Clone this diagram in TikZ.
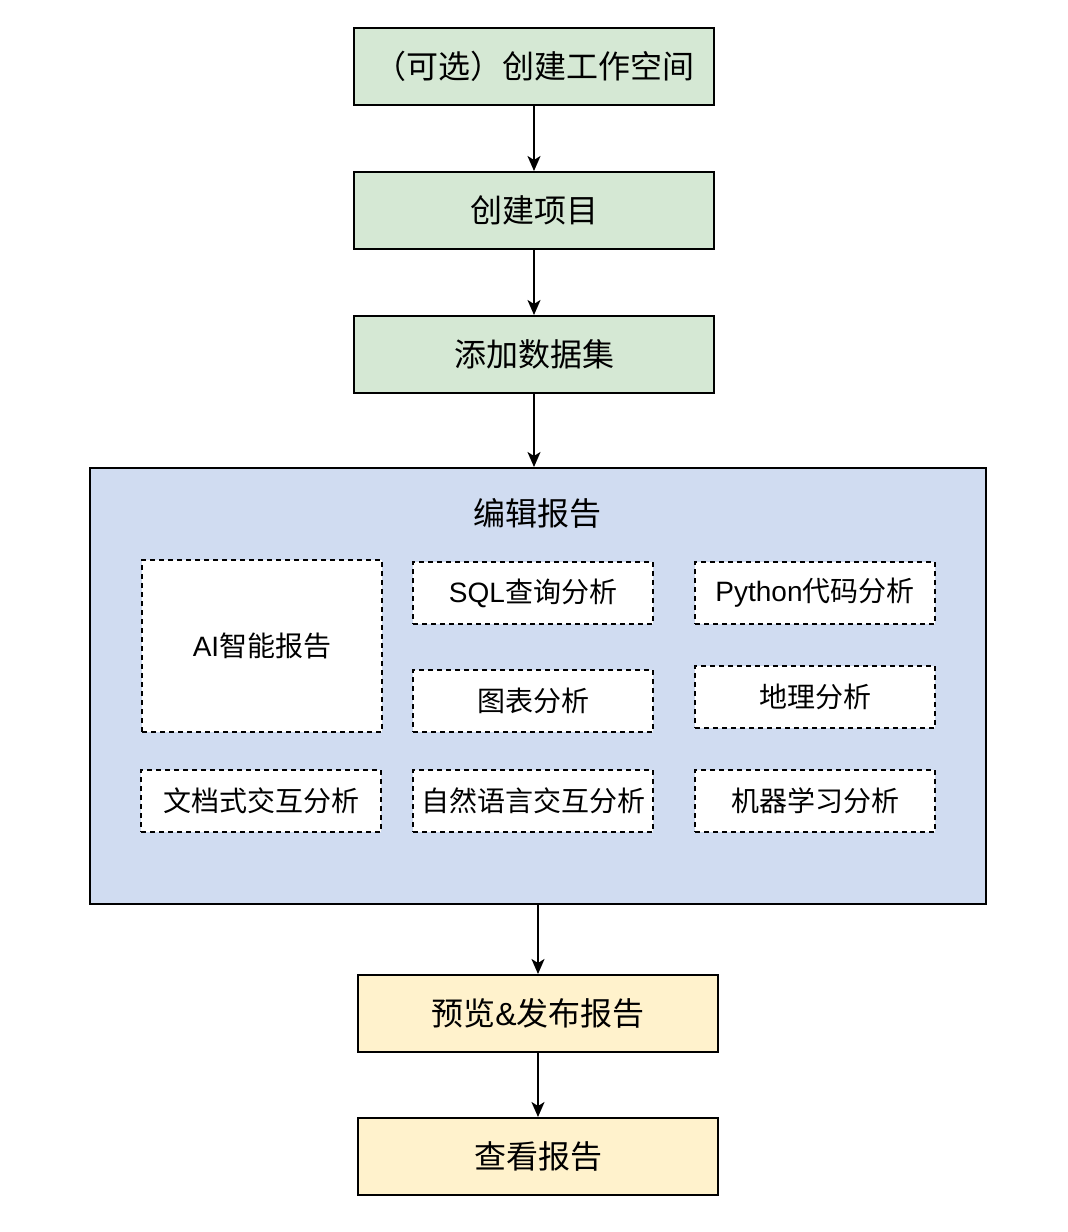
\documentclass[tikz,border=0pt]{standalone}
\usepackage{fontspec}
\setmainfont{Noto Sans CJK SC}
\newfontfamily\latinfont{Liberation Sans}
\usetikzlibrary{arrows.meta}
\definecolor{gfill}{HTML}{D5E8D4}
\definecolor{bfill}{HTML}{D0DCF1}
\definecolor{yfill}{HTML}{FFF2CC}
\tikzset{
  mainbox/.style={draw=black, line width=2pt, minimum width=360pt, minimum height=77pt, inner sep=0pt, font=\fontsize{32}{37}\selectfont},
  subbox/.style={draw=black, fill=white, line width=1.6pt, dash pattern=on 5pt off 4pt, minimum width=240pt, minimum height=62pt, inner sep=0pt, font=\fontsize{28}{33}\selectfont},
  flow/.style={line width=2pt, -{Stealth[length=15pt, width=13pt, inset=4pt]}}
}
\begin{document}
\begin{tikzpicture}[x=1pt, y=-1pt]
\useasboundingbox (0,0) rectangle (1068,1232);
\node[mainbox, fill=gfill] (ws) at (534,66.5) {（可选）创建工作空间};
\node[mainbox, fill=gfill] (proj) at (534,210.5) {创建项目};
\node[mainbox, fill=gfill] (data) at (534,354.5) {添加数据集};
\node[draw=black, line width=2pt, fill=bfill, minimum width=896pt, minimum height=436pt, inner sep=0pt] (edit) at (538,686) {};
\node[font=\fontsize{32}{37}\selectfont] (edittitle) at (537,513) {编辑报告};
\node[subbox, minimum height=172pt] (ai) at (262,646) {{\latinfont AI}智能报告};
\node[subbox] (sql) at (533,593) {{\latinfont SQL}查询分析};
\node[subbox] (py) at (815,593) {{\latinfont Python}代码分析};
\node[subbox] (chart) at (533,701) {图表分析};
\node[subbox] (geo) at (815,697) {地理分析};
\node[subbox] (doc) at (261,801) {文档式交互分析};
\node[subbox] (nl) at (533,801) {自然语言交互分析};
\node[subbox] (ml) at (815,801) {机器学习分析};
\node[mainbox, fill=yfill] (pub) at (538,1013.5) {预览{\latinfont\&}发布报告};
\node[mainbox, fill=yfill] (view) at (538,1156.5) {查看报告};
\draw[flow] (ws) -- (proj);
\draw[flow] (proj) -- (data);
\draw[flow] (data.south) -- (data.south |- edit.north);
\draw[flow] (edit.south -| pub.north) -- (pub.north);
\draw[flow] (pub) -- (view);
\end{tikzpicture}
\end{document}
